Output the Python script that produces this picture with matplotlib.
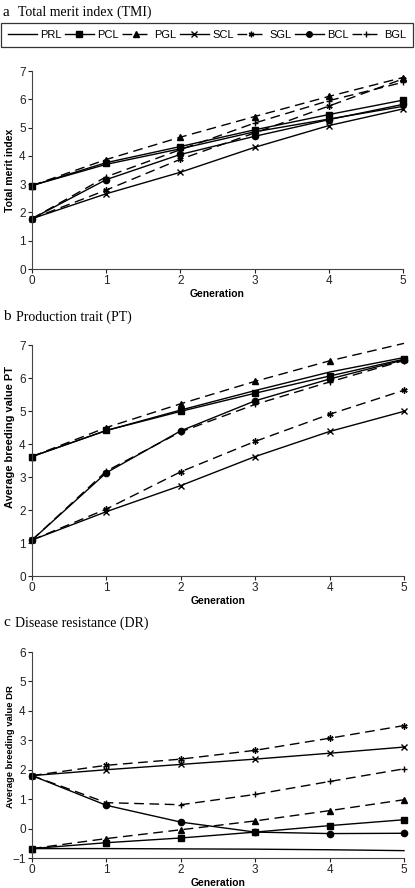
import matplotlib
matplotlib.use("Agg")
import matplotlib.pyplot as plt
from matplotlib.lines import Line2D

plt.rcParams["font.family"] = ["Liberation Sans", "DejaVu Sans"]

# Data
generations = [0, 1, 2, 3, 4, 5]
line_names = ["PRL", "PCL", "PGL", "SCL", "SGL", "BCL", "BGL"]

tmi_prl = [2.95, 3.70, 4.25, 4.85, 5.30, 5.75]
tmi_pcl = [2.95, 3.76, 4.33, 4.92, 5.46, 5.97]
tmi_pgl = [2.95, 3.87, 4.66, 5.39, 6.10, 6.77]
tmi_scl = [1.78, 2.66, 3.42, 4.30, 5.07, 5.66]
tmi_sgl = [1.78, 2.79, 3.88, 4.81, 5.76, 6.72]
tmi_bcl = [1.78, 3.16, 4.05, 4.69, 5.28, 5.82]
tmi_bgl = [1.78, 3.26, 4.22, 5.16, 5.95, 6.60]

pt_prl = [3.62, 4.41, 5.03, 5.62, 6.18, 6.62]
pt_pcl = [3.62, 4.41, 4.99, 5.54, 6.06, 6.57]
pt_pgl = [3.62, 4.50, 5.22, 5.90, 6.52, 7.05]
pt_scl = [1.09, 1.95, 2.74, 3.62, 4.38, 4.99]
pt_sgl = [1.09, 2.03, 3.16, 4.08, 4.90, 5.63]
pt_bcl = [1.09, 3.13, 4.40, 5.31, 5.97, 6.55]
pt_bgl = [1.09, 3.18, 4.37, 5.20, 5.88, 6.53]

dr_prl = [-0.68, -0.68, -0.69, -0.70, -0.72, -0.75]
dr_pcl = [-0.68, -0.48, -0.32, -0.12, 0.10, 0.30]
dr_pgl = [-0.68, -0.34, -0.04, 0.26, 0.61, 0.98]
dr_scl = [1.80, 2.00, 2.18, 2.36, 2.56, 2.77]
dr_sgl = [1.80, 2.15, 2.36, 2.66, 3.07, 3.50]
dr_bcl = [1.80, 0.79, 0.22, -0.12, -0.17, -0.16]
dr_bgl = [1.80, 0.88, 0.81, 1.16, 1.60, 2.03]

# Styles
dash = (0, (7, 4))
styles = {
    "PRL": dict(linestyle="-", marker=None),
    "PCL": dict(linestyle="-", marker="s"),
    "PGL": dict(linestyle=dash, marker="^"),
    "SCL": dict(linestyle="-", marker="x"),
    "SGL": dict(linestyle=dash, marker=(6, 2, 0)),
    "BCL": dict(linestyle="-", marker="o"),
    "BGL": dict(linestyle=dash, marker="+"),
}


def plot_panel(ax, series, ylim, ylabel, ylabel_size, ylabel_y, skip_last=None):
    for name, values in zip(line_names, series):
        st = styles[name]
        markevery = None
        if skip_last is not None and name in skip_last:
            markevery = list(range(len(values) - 1))
        ax.plot(generations, values, color="black", lw=1.0,
                linestyle=st["linestyle"], marker=st["marker"],
                markersize=4.5, markeredgewidth=1.0, markevery=markevery,
                clip_on=False)
    ax.set_xlim(0, 5)
    ax.set_ylim(*ylim)
    ax.set_xticks(generations)
    ax.set_yticks(range(ylim[0], ylim[1] + 1))
    ax.spines["top"].set_visible(False)
    ax.spines["right"].set_visible(False)
    ax.spines["left"].set_color("#444444")
    ax.spines["bottom"].set_color("#444444")
    ax.tick_params(direction="out", length=3, width=0.8, labelsize=8.5, pad=1.5, colors="#222222")
    ax.set_xlabel("Generation", fontweight="bold", fontsize=7.5, labelpad=1)
    ax.set_ylabel(ylabel, fontweight="bold", fontsize=ylabel_size)
    ax.yaxis.set_label_coords(-0.046, ylabel_y)


W, H = 415, 888
fig = plt.figure(figsize=(W / 100, H / 100), dpi=100)


def axes_px(left, top, right, bottom):
    return fig.add_axes([left / W, 1 - bottom / H, (right - left) / W, (bottom - top) / H])


ax_a = axes_px(32, 71, 403, 269)
ax_b = axes_px(32, 345, 404, 576)
ax_c = axes_px(32, 652, 404, 858)

plot_panel(ax_a, [tmi_prl, tmi_pcl, tmi_pgl, tmi_scl, tmi_sgl, tmi_bcl, tmi_bgl], (0, 7),
           "Total merit index", 7.6, 0.5)
plot_panel(ax_b, [pt_prl, pt_pcl, pt_pgl, pt_scl, pt_sgl, pt_bcl, pt_bgl], (0, 7),
           "Average breeding value PT", 7.9, 0.6, skip_last=["PGL"])
plot_panel(ax_c, [dr_prl, dr_pcl, dr_pgl, dr_scl, dr_sgl, dr_bcl, dr_bgl], (-1, 6),
           "Average breeding value DR", 6.8, 0.54)

# Panel titles
serif = ["Liberation Serif", "DejaVu Serif"]
fig.text(2 / W, 1 - 12 / H, "a", family=serif, fontsize=11, va="center", ha="left")
fig.text(18 / W, 1 - 12 / H, "Total merit index (TMI)", family=serif, fontsize=10, va="center", ha="left")
fig.text(3 / W, 1 - 317 / H, "b", family=serif, fontsize=11, va="center", ha="left")
fig.text(16 / W, 1 - 317 / H, "Production trait (PT)", family=serif, fontsize=10, va="center", ha="left")
fig.text(3 / W, 1 - 623 / H, "c", family=serif, fontsize=11, va="center", ha="left")
fig.text(15 / W, 1 - 623 / H, "Disease resistance (DR)", family=serif, fontsize=10, va="center", ha="left")

# Legend
handles = []
for name in line_names:
    st = styles[name]
    handles.append(Line2D([], [], color="black", lw=1.0, linestyle=st["linestyle"],
                          marker=st["marker"], markersize=4, markeredgewidth=1.0))
leg = fig.legend(handles, line_names, loc="center", ncol=7,
                 bbox_to_anchor=(1 / W, 1 - 48 / H, 412 / W, 26 / H), mode="expand",
                 fontsize=8, handlelength=2.6, handletextpad=0.3, columnspacing=0.5,
                 borderaxespad=0, frameon=True, fancybox=False, borderpad=0.6)
leg.get_frame().set_edgecolor("black")
leg.get_frame().set_linewidth(0.9)

fig.savefig("out.png", dpi=100)
